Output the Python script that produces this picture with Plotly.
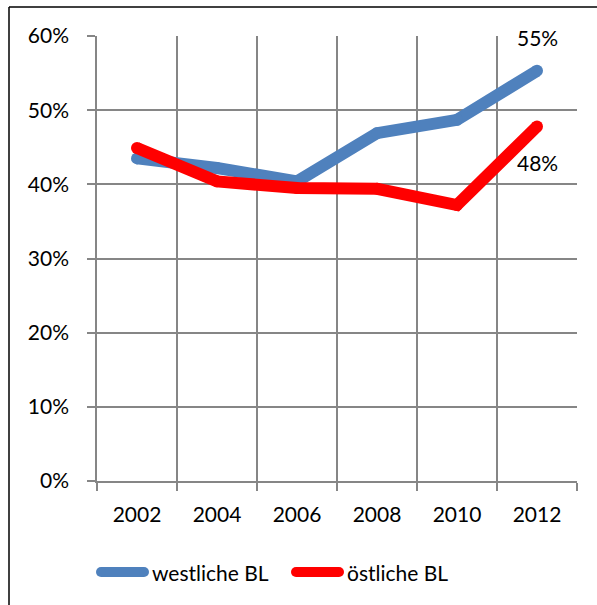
import plotly.graph_objects as go

years = ["2002", "2004", "2006", "2008", "2010", "2012"]
westliche = [0.435, 0.422, 0.404, 0.469, 0.487, 0.553]
oestliche = [0.449, 0.404, 0.395, 0.394, 0.372, 0.478]
series_names = ["westliche BL", "östliche BL"]
colors = ["#4F81BD", "#FF0000"]
y_ticks = [0, 0.1, 0.2, 0.3, 0.4, 0.5, 0.6]

FONT = "Lato"
W, H = 597, 605
L, R, T, B = 97, 20, 36, 124
pw, ph = W - L - R, H - T - B


def px2paper(x, y):
    return (x - L) / pw, (H - B - y) / ph


fig = go.Figure()
for name, vals, col in zip(series_names, [westliche, oestliche], colors):
    fig.add_trace(go.Scatter(x=years, y=vals, name=name, mode="lines",
                             line=dict(color=col, width=12), showlegend=False))
    fig.add_trace(go.Scatter(x=years, y=vals, mode="markers", showlegend=False,
                             marker=dict(color=col, size=12), hoverinfo="skip"))

# end labels
last = len(years) - 1
fig.add_annotation(x=last, y=westliche[-1], text=f"{westliche[-1]*100:.0f}%",
                   showarrow=False, yshift=33, font=dict(family=FONT, size=21, color="black"))
fig.add_annotation(x=last, y=oestliche[-1], text=f"{oestliche[-1]*100:.0f}%",
                   showarrow=False, yshift=-36, font=dict(family=FONT, size=21, color="black"))

# custom legend (line symbols + text)
legend_items = [(97, 148, 150), (292, 343, 345)]
for (sx0, sx1, tx), name, col in zip(legend_items, series_names, colors):
    a0, ly = px2paper(sx0 + 4, 572)
    a1, _ = px2paper(sx1 - 4, 572)
    fig.add_shape(type="line", xref="paper", yref="paper", x0=a0, y0=ly, x1=a1, y1=ly,
                  line=dict(color=col, width=10))
    for cx in (sx0 + 4, sx1 - 4):
        c0, cy0 = px2paper(cx - 5, 567)
        c1, cy1 = px2paper(cx + 5, 577)
        fig.add_shape(type="circle", xref="paper", yref="paper", x0=c0, y0=cy1, x1=c1, y1=cy0,
                      fillcolor=col, line=dict(width=0))
    txp, _ = px2paper(tx, 572)
    fig.add_annotation(xref="paper", yref="paper", x=txp, y=ly, xanchor="left", yanchor="middle",
                       text=name, showarrow=False, font=dict(family=FONT, size=21, color="black"))

# outer border (top and left edges visible)
x0, y0 = px2paper(9, 7)
x1, _ = px2paper(620, 7)
_, y1 = px2paper(9, 620)
fig.add_shape(type="line", xref="paper", yref="paper", x0=x0, y0=y0, x1=x1, y1=y0,
              line=dict(color="black", width=1.5))
fig.add_shape(type="line", xref="paper", yref="paper", x0=x0, y0=y0, x1=x0, y1=y1,
              line=dict(color="black", width=1.5))

fig.update_layout(
    width=W, height=H,
    margin=dict(l=L, r=R, t=T, b=B),
    paper_bgcolor="white", plot_bgcolor="white",
    font=dict(family=FONT, size=21, color="black"),
    showlegend=False,
)
fig.update_xaxes(type="category", range=[-0.5, 5.5], tickson="boundaries",
                 showgrid=True, gridcolor="#868686", gridwidth=1.5,
                 showline=True, linecolor="#868686", linewidth=1.5,
                 ticks="outside", ticklen=8, tickcolor="#868686", tickwidth=1.5,
                 ticklabelstandoff=14, mirror=False)
fig.update_yaxes(range=[0, 0.6], tickvals=y_ticks, tickformat=".0%",
                 showgrid=True, gridcolor="#868686", gridwidth=1.5,
                 showline=True, linecolor="#868686", linewidth=1.5,
                 ticks="outside", ticklen=8, tickcolor="#868686", tickwidth=1.5,
                 ticklabelstandoff=14, zeroline=False)

fig.write_html("out.html", config={"displayModeBar": False},
               post_script="document.body.style.margin='0';")
